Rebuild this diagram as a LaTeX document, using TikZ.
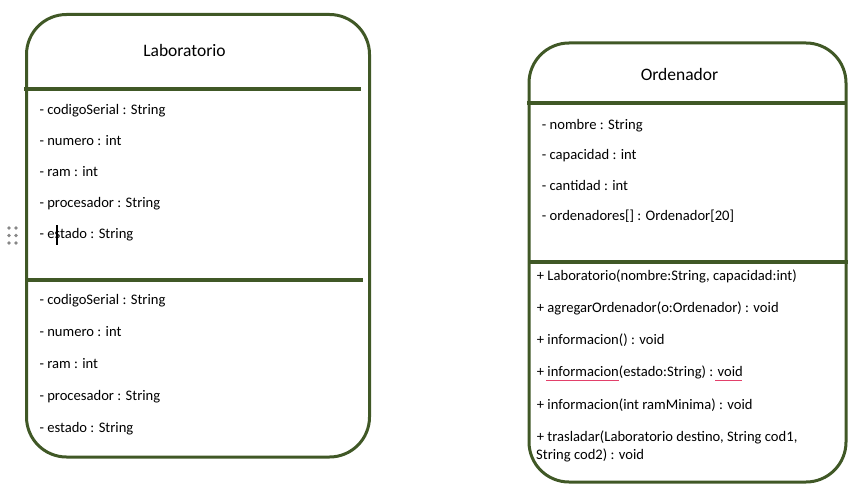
\documentclass[tikz,border=0pt]{standalone}
\usepackage{fontspec}
\setmainfont{Carlito}
\definecolor{umlgreen}{RGB}{64,88,38}
\definecolor{spellred}{RGB}{226,64,106}
\definecolor{gripgray}{RGB}{135,135,135}
\begin{document}
\begin{tikzpicture}[x=1pt,y=-1pt,
  box/.style={draw=umlgreen, line width=3pt, rounded corners=40pt, rectangle, inner sep=0},
  sep/.style={draw=umlgreen, line width=3.6pt},
  txt/.style={anchor=base west, inner sep=0, font=\fontsize{14.6}{17}\selectfont},
  ttl/.style={anchor=base, inner sep=0, font=\fontsize{17.5}{20}\selectfont},
  squig/.style={draw=spellred, line width=1.2pt},
  grip/.style={fill=gripgray, draw=none, circle, minimum size=3.6pt, inner sep=0}]
\useasboundingbox (0,0) rectangle (867,492);
% boxes
\node[box, minimum width=343pt, minimum height=442.5pt] (lab) at (198,235.75) {};
\node[box, minimum width=317pt, minimum height=439pt] (ord) at (687.5,262.5) {};
% separators
\coordinate (l1a) at (24,89); \coordinate (l1b) at (361,89);
\coordinate (l2a) at (26,280); \coordinate (l2b) at (363,280);
\coordinate (r1a) at (527,103); \coordinate (r1b) at (846,103);
\coordinate (r2a) at (529,262); \coordinate (r2b) at (848,262);
\draw[sep] (l1a) -- (l1b);
\draw[sep] (l2a) -- (l2b);
\draw[sep] (r1a) -- (r1b);
\draw[sep] (r2a) -- (r2b);
% Laboratorio
\node[ttl] (labt) at (184.5,57) {Laboratorio};
\node[txt] (la1) at (39.3,115) {- codigoSerial : String};
\node[txt] (la2) at (39.3,146) {- numero : int};
\node[txt] (la3) at (39.3,176.7) {- ram : int};
\node[txt] (la4) at (39.3,207) {- procesador : String};
\node[txt] (la5) at (39.3,238) {- estado : String};
\node[txt] (lb1) at (39.3,304.3) {- codigoSerial : String};
\node[txt] (lb2) at (39.3,336) {- numero : int};
\node[txt] (lb3) at (39.3,368) {- ram : int};
\node[txt] (lb4) at (39.3,400) {- procesador : String};
\node[txt] (lb5) at (39.3,432) {- estado : String};
% Ordenador
\node[ttl] (ordt) at (679.5,80.7) {Ordenador};
\node[txt] (oa1) at (541.7,129.3) {- nombre : String};
\node[txt] (oa2) at (541.7,159.3) {- capacidad : int};
\node[txt] (oa3) at (541.7,190) {- cantidad : int};
\node[txt] (oa4) at (541.7,220.7) {- ordenadores[] : Ordenador[20]};
\node[txt] (om1) at (536.7,280) {+ Laboratorio(nombre:String, capacidad:int)};
\node[txt] (om2) at (536.7,312) {+ agregarOrdenador(o:Ordenador) : void};
\node[txt] (om3) at (536.7,344) {+ informacion() : void};
\node[txt] (om4) at (536.7,376.7) {+ informacion(estado:String) : void};
\node[txt] (om5) at (536.7,409) {+ informacion(int ramMinima) : void};
\node[txt] (om6) at (536.7,441) {+ trasladar(Laboratorio destino, String cod1,};
\node[txt] (om7) at (536,459.3) {String cod2) : void};
% spell-check underlines
\coordinate (s1a) at (546,380.5); \coordinate (s1b) at (619,380.5);
\coordinate (s2a) at (715,380.5); \coordinate (s2b) at (742,380.5);
\draw[squig] (s1a) -- (s1b);
\draw[squig] (s2a) -- (s2b);
% grip dots and cursor
\foreach \gx in {9,16} \foreach \gy in {228,235.5,243} \node[grip] at (\gx,\gy) {};
\coordinate (cura) at (57,225); \coordinate (curb) at (57,245);
\draw[line width=1.8pt] (cura) -- (curb);
\end{tikzpicture}
\end{document}
